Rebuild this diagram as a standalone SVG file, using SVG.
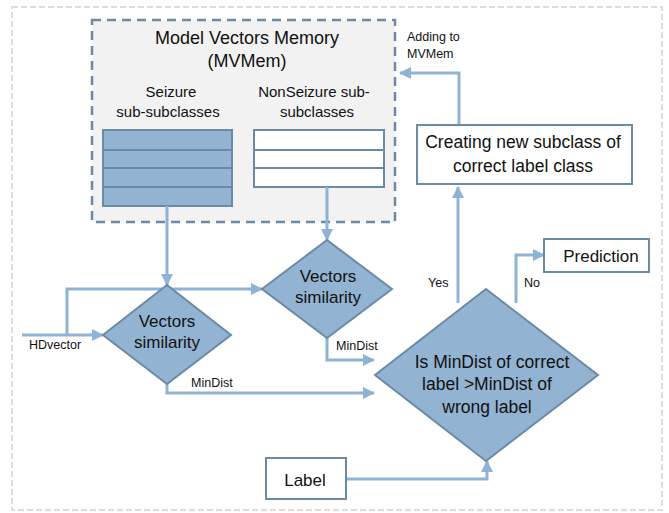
<svg xmlns="http://www.w3.org/2000/svg" width="669" height="513" viewBox="0 0 669 513">
<defs>
<marker id="ah" markerUnits="userSpaceOnUse" markerWidth="12" markerHeight="12" viewBox="0 0 12 12" refX="11" refY="6" orient="auto">
<path d="M0,0 L12,6 L0,12 Z" fill="#8fb3d4"/>
</marker>
<style>
.con{fill:none;stroke:#8fb3d4;stroke-width:3;marker-end:url(#ah)}
.conn{fill:none;stroke:#8fb3d4;stroke-width:3}
.dia{fill:#93b3d2;stroke:#6b8aa5;stroke-width:2}
.box{fill:#fff;stroke:#6b8aa5;stroke-width:2}
.t{font-family:"Liberation Sans",Arial,sans-serif;fill:#111;text-anchor:middle}
.s{font-family:"Liberation Sans",Arial,sans-serif;fill:#111;font-size:12.5px}
</style>
</defs>
<rect x="12" y="7" width="650" height="503" fill="#fff" stroke="#dcdcdc" stroke-width="2" stroke-dasharray="6 3"/>

<g id="mvmem">
<rect x="92" y="20" width="303" height="202" fill="#f2f2f2" stroke="#6b8aa5" stroke-width="2.5" stroke-dasharray="9 6"/>
<text class="t" x="247" y="44" font-size="18">Model Vectors Memory</text>
<text class="t" x="247" y="67" font-size="18">(MVMem)</text>
<text class="t" x="171" y="97" font-size="15">Seizure</text>
<text class="t" x="168" y="117" font-size="15">sub-subclasses</text>
<text class="t" x="314" y="97" font-size="15">NonSeizure sub-</text>
<text class="t" x="317" y="117" font-size="15">subclasses</text>
<g id="seizure-table">
<rect x="103" y="130" width="129" height="76" fill="#93b3d2" stroke="#6b8aa5" stroke-width="2"/>
<path d="M103,150H232M103,168H232M103,187H232" stroke="#6b8aa5" stroke-width="2"/>
</g>
<g id="nonseizure-table">
<rect x="254" y="130" width="130" height="57" fill="#fff" stroke="#6b8aa5" stroke-width="2"/>
<path d="M254,150H384M254,168H384" stroke="#6b8aa5" stroke-width="2"/>
</g>
</g>

<g id="connectors">
<path class="con" d="M167,206V285"/>
<path class="con" d="M327,187V240"/>
<path class="con" d="M22,335H103"/>
<path class="con" d="M67,335V289H262"/>
<path class="con" d="M167,384V393H374"/>
<path class="con" d="M327,338V360H374"/>
<path class="con" d="M458,303V187"/>
<path class="con" d="M459,125V73H400"/>
<path class="con" d="M516,303V255H544"/>
<path class="con" d="M346,479H487V461"/>
</g>

<g id="vs-left">
<path class="dia" d="M167,285L231,335L167,384L103,335Z"/>
<text class="t" x="167" y="327" font-size="17">Vectors</text>
<text class="t" x="167" y="348" font-size="17">similarity</text>
</g>
<g id="vs-right">
<path class="dia" d="M327,240L392,289L327,338L262,289Z"/>
<text class="t" x="328" y="282" font-size="17">Vectors</text>
<text class="t" x="328" y="303" font-size="17">similarity</text>
</g>
<g id="decision">
<path class="dia" d="M486,289L598,375L486,461L375,375Z"/>
<text class="t" x="492" y="368" font-size="17.5">Is MinDist of correct</text>
<text class="t" x="487" y="390" font-size="17.5">label &gt;MinDist of</text>
<text class="t" x="487" y="413" font-size="17.5">wrong label</text>
</g>
<g id="creating">
<rect class="box" x="417" y="125" width="215" height="59"/>
<text class="t" x="523" y="148" font-size="17.5">Creating new subclass of</text>
<text class="t" x="523" y="172" font-size="17.5">correct label class</text>
</g>
<g id="prediction">
<rect class="box" x="544" y="239" width="105" height="33"/>
<text class="t" x="601" y="262" font-size="17">Prediction</text>
</g>
<g id="label">
<rect class="box" x="266" y="458" width="80" height="41"/>
<text class="t" x="305" y="486" font-size="17">Label</text>
</g>

<g id="labels">
<text class="s" x="29" y="349">HDvector</text>
<text class="s" x="191" y="387">MinDist</text>
<text class="s" x="336" y="350">MinDist</text>
<text class="s" x="428" y="287">Yes</text>
<text class="s" x="524" y="287">No</text>
<text class="s" x="407" y="41">Adding to</text>
<text class="s" x="407" y="58">MVMem</text>
</g>
</svg>
